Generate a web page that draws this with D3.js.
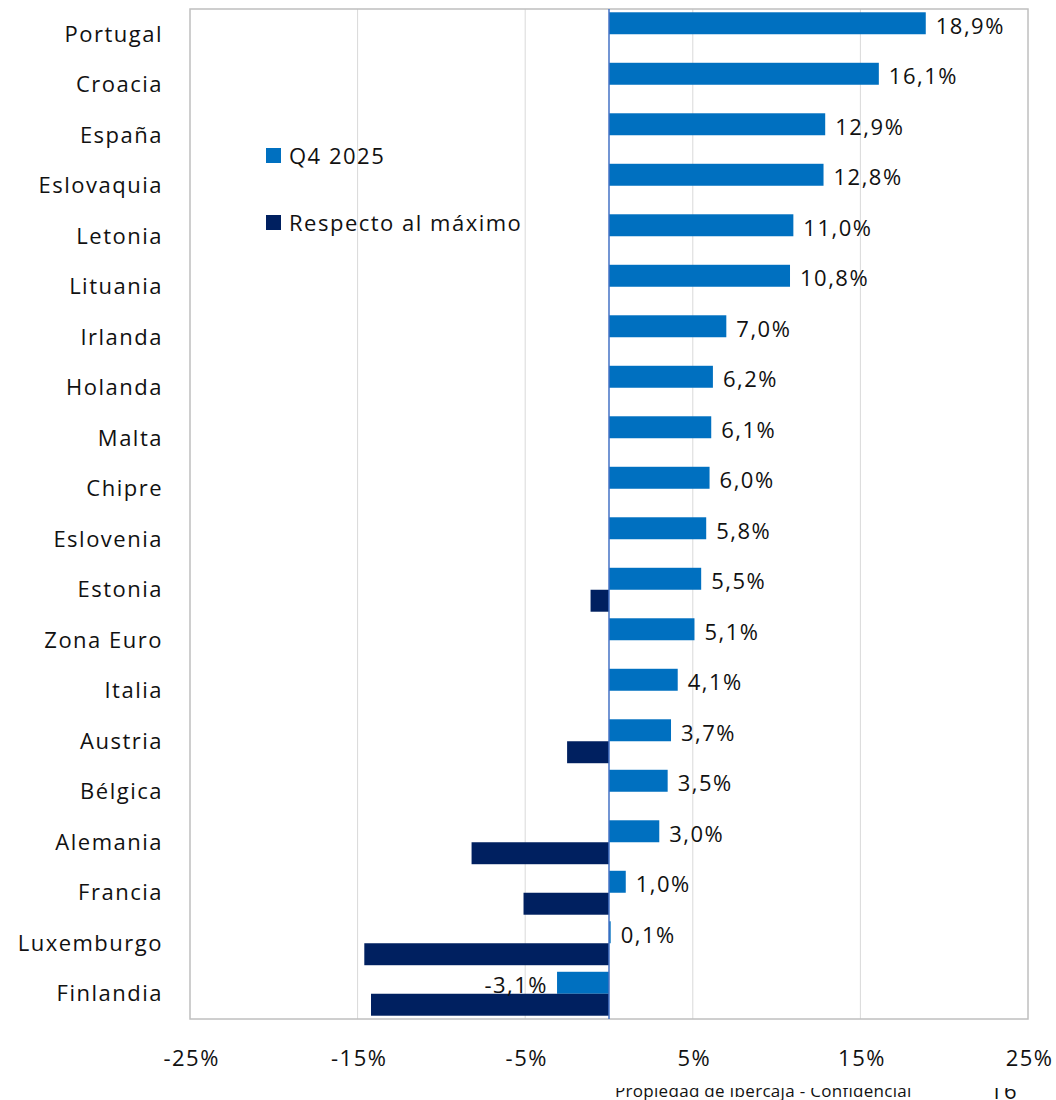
<!DOCTYPE html>
<html><head><meta charset="utf-8">
<script src="https://cdn.jsdelivr.net/npm/d3@7"></script>
<style>body{margin:0;background:#fff}svg{display:block}text{font-family:"Open Sans","Noto Sans",sans-serif;fill:#111;letter-spacing:1.5px}</style>
</head><body>
<svg id="c" width="1056" height="1100"></svg>
<script>
const categories = ["Portugal","Croacia","España","Eslovaquia","Letonia","Lituania","Irlanda","Holanda","Malta","Chipre","Eslovenia","Estonia","Zona Euro","Italia","Austria","Bélgica","Alemania","Francia","Luxemburgo","Finlandia"];
const q4_2025 = [18.9,16.1,12.9,12.8,11.0,10.8,7.0,6.2,6.1,6.0,5.8,5.5,5.1,4.1,3.7,3.5,3.0,1.0,0.1,-3.1];
const respectoMaximo = [0,0,0,0,0,0,0,0,0,0,0,-1.1,0,0,-2.5,0,-8.2,-5.1,-14.6,-14.2];
const tickValues = [-25,-15,-5,5,15,25];
const seriesNames = ["Q4 2025","Respecto al máximo"];
const colors = ["#0070C0","#002060"];

const svg = d3.select("#c");
const L=190, R=1028, T=9, B=1019;
const FS = 22;
const x = d3.scaleLinear().domain([-25,25]).range([L,R]);
const y = d3.scaleBand().domain(categories).range([T,B]).paddingInner(0.13).paddingOuter(0.065);
const sub = d3.scaleBand().domain([0,1]).range([0,y.bandwidth()]);
const fmt = v => d3.format(".1f")(v).replace(".",",").replace("−","-")+"%";

// gridlines
svg.append("g").selectAll("line").data(tickValues.filter(t=>t>-25&&t<25)).join("line")
  .attr("x1",d=>x(d)).attr("x2",d=>x(d)).attr("y1",T).attr("y2",B)
  .attr("stroke","#D9D9D9").attr("stroke-width",1);
// border
svg.append("rect").attr("x",L).attr("y",T).attr("width",R-L).attr("height",B-T)
  .attr("fill","none").attr("stroke","#BFBFBF").attr("stroke-width",1.5);

// bars
const series=[q4_2025,respectoMaximo];
series.forEach((vals,si)=>{
  svg.append("g").selectAll("rect").data(vals.map((v,i)=>({v,c:categories[i]}))).join("rect")
    .attr("x",d=>x(Math.min(0,d.v))).attr("width",d=>Math.abs(x(d.v)-x(0)))
    .attr("y",d=>y(d.c)+sub(si)).attr("height",sub.bandwidth())
    .attr("fill",colors[si]);
});
// zero line
svg.append("line").attr("x1",x(0)).attr("x2",x(0)).attr("y1",T).attr("y2",B)
  .attr("stroke","#4472C4").attr("stroke-width",1.5);

// data labels
svg.append("g").selectAll("text").data(q4_2025.map((v,i)=>({v,c:categories[i]}))).join("text")
  .attr("x",d=>d.v>=0? x(d.v)+10 : x(d.v)-9)
  .attr("y",d=>y(d.c)+sub(0)+sub.bandwidth()/2+3)
  .attr("dy","0.35em").attr("text-anchor",d=>d.v>=0?"start":"end")
  .attr("font-size",FS).text(d=>fmt(d.v));

// category labels
svg.append("g").selectAll("text").data(categories).join("text")
  .attr("x",163).attr("y",d=>y(d)+y.bandwidth()/2).attr("dy","0.35em")
  .attr("text-anchor","end").attr("font-size",FS).text(d=>d);

// x axis
const ax = svg.append("g").attr("transform",`translate(0,${B})`)
  .call(d3.axisBottom(x).tickValues(tickValues).tickSize(0).tickPadding(31).tickFormat(d=>d+"%"));
ax.select(".domain").remove();
ax.selectAll("text").attr("font-size",FS).attr("fill","#111").attr("dx","0.05em")
  .style("font-family",'"Open Sans","Noto Sans",sans-serif');

// legend
const leg = svg.append("g");
seriesNames.forEach((n,i)=>{
  const yy = 156 + i*67;
  leg.append("rect").attr("x",266).attr("y",yy-8).attr("width",15).attr("height",15).attr("fill",colors[i]);
  leg.append("text").attr("x",289).attr("y",yy).attr("dy","0.35em").attr("font-size",FS).text(n);
});

// footer (partially hidden, as in the reference)
const cp = svg.append("clipPath").attr("id","fc");
cp.append("rect").attr("x",0).attr("y",1088).attr("width",1056).attr("height",20);
const f = svg.append("g").attr("clip-path","url(#fc)");
f.append("text").attr("x",615).attr("y",1097).attr("font-size",17).style("letter-spacing","0.3px").text("Propiedad de Ibercaja - Confidencial");
f.append("text").attr("x",1018).attr("y",1099).attr("text-anchor","end").attr("font-size",22).text("16");
</script>
</body></html>
